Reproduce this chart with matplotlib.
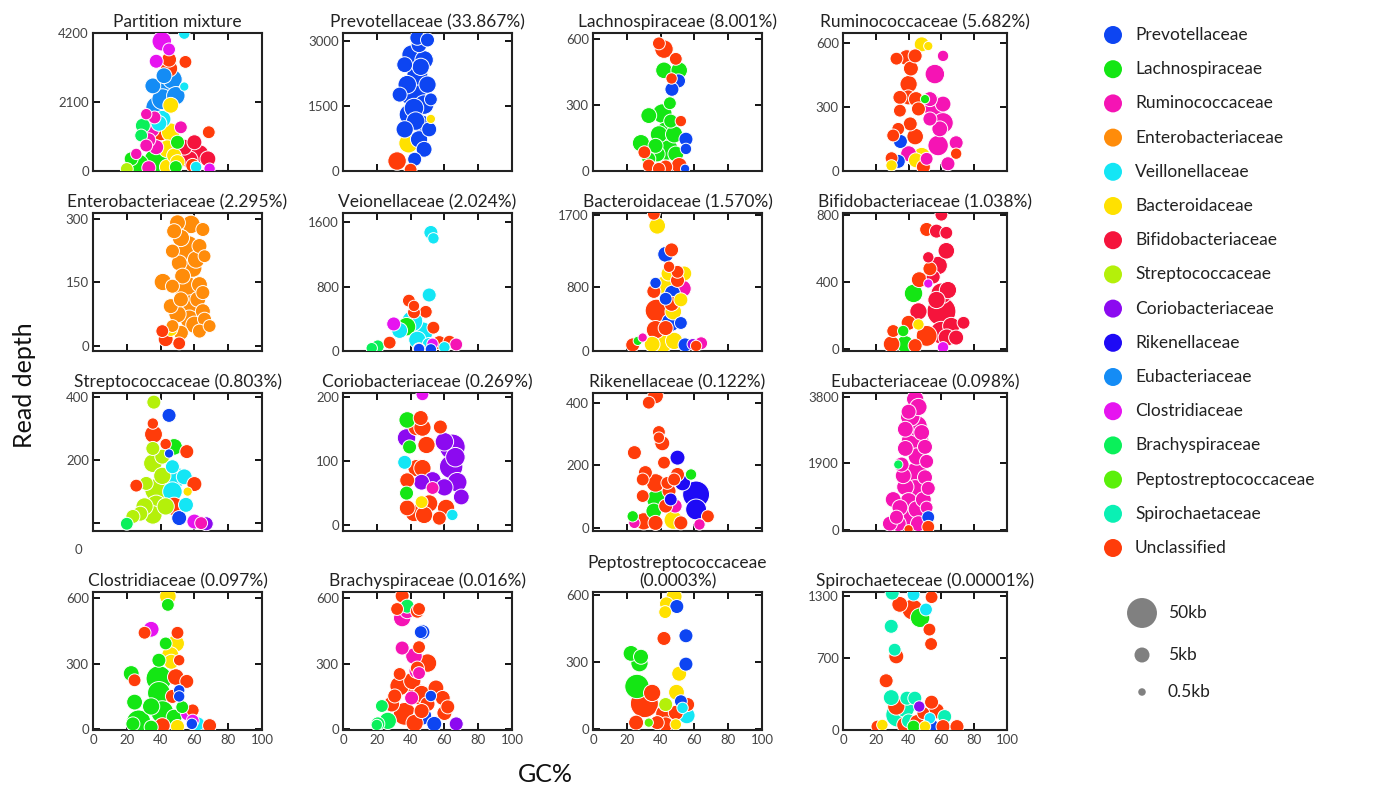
import matplotlib
matplotlib.use('Agg')
import matplotlib.pyplot as plt

plt.rcParams['font.family'] = ['Lato', 'DejaVu Sans']

families = ['Prevotellaceae', 'Lachnospiraceae', 'Ruminococcaceae',
            'Enterobacteriaceae', 'Veillonellaceae', 'Bacteroidaceae',
            'Bifidobacteriaceae', 'Streptococcaceae', 'Coriobacteriaceae',
            'Rikenellaceae', 'Eubacteriaceae', 'Clostridiaceae',
            'Brachyspiraceae', 'Peptostreptococcaceae', 'Spirochaetaceae',
            'Unclassified']
fam_codes = ['P', 'L', 'R', 'E', 'V', 'B', 'F', 'S', 'C', 'K', 'U', 'D',
             'Y', 'T', 'H', 'X']
fam_colors = ['#0d45f2', '#14e614', '#f514b4', '#ff8c0a', '#14e6f5',
              '#ffe100', '#f5143c', '#b4f00a', '#8c0af0', '#1e0af5',
              '#148cf5', '#e614f0', '#0af05a', '#5af00a', '#0af0b4',
              '#ff3c0a']
size_keys = [50, 5, 0.5]
size_labels = ['50kb', '5kb', '0.5kb']

# (GC %, read depth, contig kb, family code)
partition_pts = [
    (40.7, 3950, 12, 'D'), (54, 4180, 2, 'V'), (45, 3700, 3, 'D'),
    (37.4, 3340, 4, 'D'), (45, 3390, 5, 'X'), (54.7, 3320, 3, 'X'),
    (45, 3120, 8, 'X'), (43, 2490, 25, 'U'), (47, 2790, 12, 'U'),
    (41, 2185, 15, 'U'), (38, 1930, 20, 'U'), (49, 2290, 10, 'U'),
    (35.4, 2590, 6, 'U'), (46, 2000, 6, 'B'), (54, 2570, 1, 'V'),
    (31.5, 1730, 2, 'R'), (36.4, 1630, 3, 'R'), (41, 1580, 8, 'V'),
    (29.5, 1380, 5, 'Y'), (34.4, 1280, 8, 'R'), (40, 1230, 14, 'X'),
    (46, 1180, 10, 'B'), (68.5, 1180, 3, 'X'), (52, 1330, 3, 'R'),
    (28.5, 1080, 3, 'Y'), (31.5, 775, 3, 'R'), (50, 875, 4, 'L'),
    (44, 675, 9, 'B'), (37.4, 725, 5, 'R'), (54, 725, 6, 'F'),
    (60, 875, 5, 'F'), (63, 520, 10, 'F'), (68, 370, 6, 'F'),
    (37.4, 320, 25, 'L'), (26.6, 170, 20, 'L'), (22.6, 370, 4, 'L'),
    (48, 470, 5, 'B'), (50, 270, 5, 'B'), (25.6, 520, 2, 'R'),
    (59, 170, 4, 'X'), (69, 70, 2, 'D'), (61, 120, 2, 'V'),
    (49, 120, 3, 'L'), (33, 100, 4, 'R'), (44, 120, 6, 'B'),
    (20, 60, 3, 'S'), (42, 2900, 6, 'U'), (39, 1450, 6, 'V'),
    (33, 950, 4, 'R'), (57, 350, 8, 'F'),
]
prevo_pts = [
    (45, 2910, 6, 'P'), (50, 3020, 4, 'P'), (40.6, 2680, 12, 'P'),
    (48, 2560, 10, 'P'), (36.5, 2450, 6, 'P'), (44, 2220, 15, 'P'),
    (50, 1990, 8, 'P'), (41, 1830, 40, 'P'), (33.5, 1760, 5, 'P'),
    (48, 1530, 12, 'P'), (39.4, 1300, 15, 'P'), (46.5, 1080, 10, 'P'),
    (36.5, 960, 8, 'P'), (45, 730, 8, 'P'), (48, 500, 6, 'P'),
    (38.8, 640, 12, 'B'), (32, 230, 10, 'X'), (40, 30, 3, 'X'),
    (51, 960, 5, 'P'), (44, 3070, 5, 'P'), (38, 1990, 10, 'P'),
    (52, 1650, 3, 'P'), (42.4, 270, 4, 'P'), (52, 1200, 1, 'B'),
    (46, 2400, 8, 'P'), (42, 1450, 12, 'P'), (43, 1150, 10, 'P'),
]
lachno_pts = [
    (42, 552, 10, 'X'), (39, 578, 3, 'X'), (49, 508, 3, 'X'),
    (42, 456, 7, 'L'), (51, 456, 7, 'L'), (46.5, 419, 2, 'X'),
    (50.6, 408, 4, 'P'), (46.7, 370, 4, 'P'), (45.5, 307, 3, 'L'),
    (41, 260, 12, 'L'), (33, 251, 6, 'L'), (46, 226, 4, 'L'),
    (52, 226, 2, 'X'), (43, 181, 10, 'L'), (43, 159, 25, 'L'),
    (39, 166, 8, 'L'), (48, 166, 8, 'L'), (28.4, 126, 8, 'L'),
    (55, 144, 4, 'P'), (55, 100, 2, 'P'), (43.5, 100, 20, 'L'),
    (38, 77, 6, 'L'), (49, 77, 6, 'L'), (30.4, 85, 3, 'X'),
    (33, 55, 4, 'L'), (33, 25, 3, 'X'), (51, 25, 6, 'X'),
    (43, 18, 4, 'X'), (39, 10, 3, 'X'), (54.5, 10, 1, 'P'),
    (37, 114, 5, 'L'),
]
rumino_pts = [
    (48, 592, 5, 'B'), (52, 584, 1, 'B'), (61, 538, 2, 'R'),
    (32.6, 525, 3, 'X'), (38.8, 530, 6, 'X'), (44, 538, 4, 'X'),
    (41.4, 479, 5, 'X'), (56, 453, 12, 'R'), (40, 406, 8, 'X'),
    (34.7, 344, 4, 'X'), (39.8, 344, 5, 'X'), (44.5, 336, 5, 'X'),
    (56, 298, 20, 'R'), (61, 313, 6, 'R'), (53, 336, 5, 'R'),
    (34.7, 282, 3, 'X'), (46, 290, 4, 'X'), (61, 225, 14, 'R'),
    (53, 243, 4, 'R'), (41, 220, 4, 'X'), (33.7, 197, 3, 'X'),
    (44, 161, 7, 'X'), (30.6, 166, 3, 'X'), (35, 138, 4, 'P'),
    (58, 119, 14, 'R'), (69, 132, 4, 'R'), (40, 81, 6, 'R'),
    (69, 81, 2, 'X'), (29.6, 60, 3, 'X'), (48, 70, 8, 'B'),
    (44.5, 50, 5, 'B'), (33.7, 45, 4, 'P'), (51, 57, 3, 'R'),
    (29.6, 26, 2, 'B'), (49, 19, 4, 'X'), (50, 336, 1, 'L'),
    (64, 34, 4, 'R'), (59, 197, 6, 'R'),
]
entero_pts = [
    (58, 287, 10, 'E'), (50, 291, 6, 'E'), (65, 275, 4, 'E'),
    (48, 271, 5, 'E'), (56, 232, 25, 'E'), (63, 236, 5, 'E'),
    (47, 224, 4, 'E'), (66, 212, 3, 'E'), (59, 184, 10, 'E'),
    (51, 196, 6, 'E'), (41.3, 151, 8, 'E'), (55, 137, 25, 'E'),
    (63, 145, 6, 'E'), (65, 126, 4, 'E'), (47, 141, 4, 'E'),
    (46, 94, 5, 'E'), (58, 94, 20, 'E'), (65, 82, 5, 'E'),
    (52, 110, 5, 'E'), (57, 63, 10, 'E'), (66, 63, 4, 'E'),
    (69, 47, 3, 'E'), (52, 31, 5, 'E'), (63, 35, 4, 'E'),
    (47, 47, 3, 'E'), (46, 39, 4, 'B'), (41, 35, 3, 'X'),
    (43, 16, 5, 'X'), (51, 6, 3, 'X'), (61, 204, 8, 'E'),
    (53, 165, 6, 'E'), (62, 110, 6, 'E'), (52, 255, 8, 'E'),
    (50, 75, 8, 'E'), (60, 50, 8, 'E'),
]
veio_pts = [
    (52, 1473, 4, 'V'), (53.5, 1400, 2, 'V'), (51, 696, 4, 'V'),
    (49, 487, 3, 'X'), (47, 232, 15, 'V'), (53.5, 290, 3, 'X'),
    (57, 104, 4, 'X'), (53, 90, 2, 'D'), (63, 116, 3, 'X'),
    (67, 81, 3, 'R'), (30, 336, 4, 'D'), (37.6, 302, 10, 'L'),
    (39, 626, 3, 'X'), (42, 560, 2, 'X'), (41, 371, 15, 'V'),
    (20.6, 58, 3, 'Y'), (27.6, 104, 3, 'X'), (33.5, 255, 6, 'V'),
    (44, 139, 8, 'V'), (51, 81, 4, 'V'), (42, 480, 3, 'X'),
    (45, 25, 2, 'P'), (52, 20, 2, 'P'), (17, 35, 2, 'Y'),
    (60, 46, 2, 'V'), (45, 23, 3, 'X'),
]
bactero_pts = [
    (36, 1710, 3, 'X'), (38, 1560, 7, 'B'), (46.5, 1260, 4, 'X'),
    (43, 1205, 6, 'P'), (45, 1050, 2, 'X'), (44.7, 966, 5, 'B'),
    (54, 966, 5, 'B'), (50, 987, 3, 'X'), (50, 880, 4, 'X'),
    (37, 848, 2, 'P'), (42, 819, 10, 'B'), (53, 777, 8, 'R'),
    (36, 743, 4, 'X'), (47, 722, 6, 'P'), (43, 651, 3, 'P'),
    (52, 638, 4, 'B'), (46.5, 588, 5, 'X'), (37.6, 504, 20, 'X'),
    (47.5, 491, 7, 'B'), (46, 357, 10, 'P'), (52, 349, 3, 'P'),
    (37, 265, 10, 'X'), (43, 286, 5, 'X'), (40, 126, 30, 'B'),
    (48, 126, 8, 'B'), (54.5, 76, 4, 'P'), (23.5, 76, 4, 'X'),
    (59, 84, 2, 'C'), (64, 97, 3, 'R'), (61, 63, 2, 'X'),
    (26.5, 126, 1, 'L'), (29.4, 168, 1, 'R'), (35, 84, 6, 'B'),
]
bifido_pts = [
    (60, 800, 3, 'F'), (51, 712, 4, 'X'), (57, 702, 4, 'F'),
    (63, 692, 3, 'F'), (63, 585, 7, 'F'), (58, 497, 10, 'F'),
    (52, 546, 2, 'F'), (46.5, 413, 6, 'X'), (55, 429, 4, 'F'),
    (43, 331, 10, 'L'), (60, 224, 45, 'F'), (60, 331, 15, 'F'),
    (64, 351, 8, 'F'), (57, 292, 8, 'F'), (46, 224, 8, 'F'),
    (40, 156, 5, 'X'), (73.5, 156, 3, 'F'), (60, 97, 20, 'F'),
    (66, 137, 8, 'F'), (51, 78, 15, 'X'), (30.6, 107, 3, 'X'),
    (36.7, 107, 2, 'L'), (29.6, 29, 7, 'X'), (37.8, 29, 8, 'L'),
    (44, 20, 4, 'X'), (61, 10, 2, 'D'), (46, 146, 2, 'B'),
    (52, 390, 1, 'D'), (53, 478, 4, 'X'), (63.3, 68, 8, 'F'),
    (69, 68, 5, 'F'),
]
strepto_pts = [
    (36, 384, 4, 'S'), (45, 342, 4, 'P'), (35.4, 316, 2, 'X'),
    (35.8, 282, 9, 'X'), (35.4, 237, 4, 'S'), (48, 242, 7, 'L'),
    (43, 251, 2, 'X'), (55.5, 227, 4, 'X'), (45, 221, 1, 'P'),
    (35.4, 190, 10, 'S'), (41, 211, 5, 'S'), (49, 145, 15, 'V'),
    (47, 179, 4, 'V'), (54, 147, 6, 'V'), (25.6, 119, 3, 'X'),
    (60, 124, 5, 'X'), (31.5, 126, 4, 'S'), (37.4, 105, 20, 'S'),
    (47, 100, 12, 'V'), (37.4, 58, 12, 'S'), (30.5, 53, 8, 'S'),
    (43, 53, 8, 'S'), (48, 53, 10, 'X'), (23.6, 21, 4, 'S'),
    (35.4, 26, 10, 'S'), (51, 16, 5, 'P'), (60, 5, 5, 'D'),
    (64, 0, 3, 'R'), (67, -2, 4, 'C'), (20, -2, 3, 'Y'),
    (55, 58, 5, 'V'), (56, 100, 1, 'B'), (41, 150, 8, 'S'),
    (28, 30, 5, 'S'),
]
corio_pts = [
    (38, 164, 7, 'L'), (43.5, 153, 8, 'X'), (37.6, 136, 10, 'C'),
    (39.4, 122, 4, 'L'), (36.5, 98, 4, 'V'), (43.5, 89, 8, 'X'),
    (38, 70, 5, 'X'), (37.6, 50, 4, 'L'), (38, 27, 6, 'X'),
    (42, 19, 8, 'X'), (47, 152, 8, 'X'), (57.6, 153, 4, 'X'),
    (49.4, 125, 8, 'X'), (60, 130, 10, 'C'), (64.7, 122, 30, 'C'),
    (64, 91, 22, 'C'), (47, 89, 8, 'X'), (53, 70, 8, 'C'),
    (67.6, 67, 12, 'C'), (60, 59, 8, 'C'), (53, 58, 3, 'R'),
    (70, 44, 6, 'C'), (51, 34, 8, 'X'), (61, 27, 8, 'X'),
    (48, 16, 8, 'X'), (57, 11, 4, 'X'), (64.7, 16, 2, 'V'),
    (46.5, 67, 6, 'C'), (46.5, 36, 3, 'B'), (46, 167, 5, 'X'),
    (47, 204, 3, 'D'), (66.5, 106, 12, 'C'),
]
riken_pts = [
    (37, 423, 6, 'X'), (33, 401, 3, 'X'), (39, 307, 3, 'X'),
    (41, 271, 5, 'X'), (39, 289, 2, 'X'), (24.5, 241, 4, 'X'),
    (42, 209, 3, 'X'), (50, 225, 5, 'K'), (31, 177, 4, 'X'),
    (50, 171, 4, 'X'), (58, 171, 2, 'L'), (37, 144, 10, 'X'),
    (29.4, 155, 3, 'X'), (53, 144, 6, 'K'), (44, 144, 3, 'X'),
    (45, 118, 4, 'X'), (29.4, 102, 3, 'X'), (61, 107, 35, 'K'),
    (61, 59, 15, 'K'), (38, 91, 15, 'L'), (36, 54, 6, 'L'),
    (48.6, 70, 4, 'R'), (43, 70, 4, 'X'), (30, 21, 8, 'X'),
    (37, 16, 5, 'X'), (47.5, 25, 10, 'B'), (52, 16, 4, 'X'),
    (24.5, 16, 2, 'R'), (23.5, 37, 2, 'L'), (63, 11, 2, 'R'),
    (68, 37, 3, 'X'), (46, 91, 3, 'K'), (48, 155, 3, 'X'),
]
eubact_pts = [
    (44, 3740, 8, 'R'), (46, 3515, 8, 'R'), (40, 3380, 5, 'R'),
    (41, 3240, 12, 'R'), (45, 2970, 15, 'R'), (38, 2880, 6, 'R'),
    (48, 2785, 6, 'R'), (44, 2510, 40, 'R'), (38, 2330, 6, 'R'),
    (50, 2375, 5, 'R'), (45, 2100, 8, 'R'), (35.7, 1870, 5, 'R'),
    (51, 1960, 4, 'R'), (33.7, 1870, 1, 'Y'), (44, 1550, 30, 'R'),
    (36.7, 1550, 6, 'R'), (50, 1505, 5, 'R'), (38, 1230, 8, 'R'),
    (52, 1190, 4, 'R'), (44, 1140, 15, 'R'), (30.6, 870, 6, 'R'),
    (40, 820, 8, 'R'), (49, 870, 6, 'R'), (34.7, 640, 6, 'R'),
    (45, 590, 8, 'R'), (51, 640, 3, 'R'), (41, 365, 15, 'R'),
    (32.6, 365, 4, 'R'), (52, 365, 3, 'P'), (28.6, 180, 5, 'R'),
    (33.7, 180, 6, 'R'), (46, 180, 6, 'R'), (52, 90, 3, 'X'),
    (40, 20, 1, 'X'),
]
clostri_pts = [
    (44.3, 608, 7, 'B'), (44.3, 569, 3, 'L'), (34.4, 457, 6, 'D'),
    (30.5, 441, 3, 'X'), (50, 441, 3, 'X'), (49, 392, 8, 'B'),
    (43, 392, 3, 'L'), (45.7, 338, 8, 'B'), (46.3, 308, 5, 'B'),
    (51, 315, 2, 'X'), (39, 315, 4, 'L'), (22.6, 254, 6, 'L'),
    (24.6, 223, 3, 'X'), (39, 231, 30, 'L'), (49, 238, 7, 'X'),
    (55.5, 218, 4, 'X'), (51, 177, 2, 'P'), (51, 149, 2, 'P'),
    (39, 165, 20, 'L'), (47, 149, 4, 'X'), (24.6, 123, 6, 'L'),
    (34.4, 103, 8, 'L'), (41, 77, 20, 'L'), (56, 69, 4, 'D'),
    (59, 85, 3, 'X'), (48, 54, 6, 'L'), (27, 31, 25, 'L'),
    (23.6, 23, 4, 'L'), (41, 15, 6, 'X'), (62, 23, 4, 'V'),
    (58.5, 23, 2, 'P'), (50, 11, 4, 'B'), (69, 15, 4, 'X'),
    (59, 38, 3, 'D'), (34.4, 8, 4, 'L'), (52.8, 100, 3, 'L'),
]
brachy_pts = [
    (35, 610, 4, 'X'), (38, 563, 4, 'Y'), (32, 550, 3, 'X'),
    (35, 508, 8, 'R'), (38, 540, 5, 'R'), (44, 540, 4, 'X'),
    (46, 444, 3, 'P'), (35, 371, 4, 'R'), (42, 334, 7, 'R'),
    (44, 279, 4, 'X'), (43.5, 266, 5, 'R'), (33.5, 252, 3, 'X'),
    (33.5, 197, 12, 'X'), (41, 220, 8, 'X'), (44, 160, 15, 'X'),
    (30.6, 151, 4, 'X'), (40.6, 142, 4, 'R'), (23, 105, 3, 'Y'),
    (28.8, 114, 6, 'X'), (36.5, 69, 20, 'X'), (26.5, 37, 8, 'Y'),
    (20.6, 23, 4, 'Y'), (42.4, 27, 8, 'X'), (20, 18, 2, 'Y'),
    (45, 550, 3, 'X'), (47, 444, 5, 'P'), (45, 375, 3, 'X'),
    (50, 302, 10, 'X'), (45, 256, 3, 'R'), (55, 188, 6, 'X'),
    (46.5, 160, 8, 'X'), (59, 142, 5, 'X'), (52, 151, 2, 'P'),
    (62, 101, 4, 'X'), (60, 73, 5, 'X'), (47, 60, 10, 'P'),
    (54, 23, 5, 'P'), (67, 23, 4, 'C'), (50, 114, 5, 'X'),
    (46.5, 82, 5, 'X'),
]
pepto_pts = [
    (48, 595, 6, 'B'), (43.5, 562, 4, 'B'), (42.7, 525, 3, 'B'),
    (49.6, 550, 4, 'P'), (42, 407, 4, 'X'), (55, 419, 4, 'P'),
    (22.5, 340, 6, 'L'), (28.4, 325, 5, 'L'), (27.5, 296, 8, 'L'),
    (55, 292, 4, 'P'), (51, 249, 5, 'B'), (26, 192, 25, 'L'),
    (49.4, 166, 6, 'B'), (30.4, 115, 40, 'X'), (35, 163, 8, 'X'),
    (52, 126, 3, 'P'), (43, 111, 4, 'S'), (56, 111, 4, 'X'),
    (49, 74, 5, 'X'), (42, 71, 7, 'X'), (55.5, 62, 7, 'V'),
    (53, 96, 2, 'V'), (25.5, 30, 5, 'X'), (38, 30, 4, 'X'),
    (33, 30, 1, 'T'), (49, 22, 2, 'B'), (43, 22, 5, 'X'),
]
spiro_pts = [
    (30, 1330, 4, 'H'), (43, 1315, 3, 'V'), (54, 1290, 3, 'X'),
    (34.6, 1220, 6, 'X'), (42.4, 1170, 15, 'X'), (47, 1090, 12, 'L'),
    (50.6, 1170, 3, 'V'), (29.4, 1007, 4, 'H'), (52.7, 975, 3, 'X'),
    (53.7, 835, 3, 'X'), (31.5, 780, 3, 'H'), (32.5, 715, 5, 'X'),
    (26.3, 478, 4, 'X'), (29.4, 315, 6, 'H'), (39, 309, 4, 'H'),
    (43.8, 309, 4, 'H'), (54, 270, 4, 'X'), (38, 211, 10, 'H'),
    (46.5, 228, 2, 'C'), (57, 185, 6, 'X'), (62, 130, 4, 'H'),
    (33.5, 146, 25, 'H'), (32.5, 228, 8, 'X'), (49, 163, 3, 'X'),
    (53, 114, 2, 'V'), (21, 33, 3, 'X'), (24, 49, 2, 'B'),
    (40, 88, 4, 'H'), (43, 33, 3, 'L'), (45, 81, 4, 'X'),
    (50, 33, 2, 'B'), (54, 33, 5, 'P'), (61, 33, 4, 'X'),
    (69.5, 33, 4, 'X'), (37.6, 49, 6, 'X'),
]

panel_titles = ['Partition mixture', 'Prevotellaceae (33.867%)',
                'Lachnospiraceae (8.001%)', 'Ruminococcaceae (5.682%)',
                'Enterobacteriaceae (2.295%)', 'Veionellaceae (2.024%)',
                'Bacteroidaceae (1.570%)', 'Bifidobacteriaceae (1.038%)',
                'Streptococcaceae (0.803%)', 'Coriobacteriaceae (0.269%)',
                'Rikenellaceae (0.122%)', 'Eubacteriaceae (0.098%)',
                'Clostridiaceae (0.097%)', 'Brachyspiraceae (0.016%)',
                'Peptostreptococcaceae\n(0.0003%)',
                'Spirochaeteceae (0.00001%)']
panel_points = [partition_pts, prevo_pts, lachno_pts, rumino_pts,
                entero_pts, veio_pts, bactero_pts, bifido_pts,
                strepto_pts, corio_pts, riken_pts, eubact_pts,
                clostri_pts, brachy_pts, pepto_pts, spiro_pts]
panel_yticks = [[0, 2100, 4200], [0, 1500, 3000], [0, 300, 600],
                [0, 300, 600], [0, 150, 300], [0, 800, 1600],
                [0, 800, 1700], [0, 400, 800], [0, 200, 400],
                [0, 100, 200], [0, 200, 400], [0, 1900, 3800],
                [0, 300, 600], [0, 300, 600], [0, 300, 600],
                [0, 700, 1300]]
panel_ylims = [(0, 4200), (0, 3180), (0, 625), (0, 645), (-12, 314),
               (0, 1715), (0, 1720), (-12, 810), (-25, 413), (-9, 206),
               (-10, 432), (-30, 3915), (-5, 628), (-5, 628), (-3, 615),
               (0, 1340)]
gc_ticks = [0, 20, 40, 60, 80, 100]

W, H = 1374, 800
col_left = [93, 343, 593, 843]
col_width = [169, 169, 169, 164]
row_top = [33, 213, 393, 592]
ax_h = 138
color_of = dict(zip(fam_codes, fam_colors))


def marker_area(kb):
    d_px = 15 * (kb / 5.0) ** 0.3
    return (d_px * 0.72) ** 2


fig = plt.figure(figsize=(W / 100, H / 100), dpi=100)

for i, pts in enumerate(panel_points):
    r, c = divmod(i, 4)
    ax = fig.add_axes([col_left[c] / W, 1 - (row_top[r] + ax_h) / H,
                       col_width[c] / W, ax_h / H])
    pts = sorted(pts, key=lambda p: -p[2])
    ax.scatter([p[0] for p in pts], [p[1] for p in pts],
               s=[marker_area(p[2]) for p in pts],
               c=[color_of[p[3]] for p in pts],
               edgecolors='white', linewidths=0.7, zorder=3, clip_on=True)
    ax.set_xlim(0, 100)
    ax.set_ylim(*panel_ylims[i])
    ax.set_xticks(gc_ticks)
    ax.set_yticks(panel_yticks[i])
    if r < 3:
        ax.set_xticklabels([])
    if i == 8:
        ax.set_yticklabels(['', '200', '400'])
        ax.text(-0.085, -0.14, '0', transform=ax.transAxes, ha='center',
                va='center', fontsize=9.5, color='#444444')
    ax.tick_params(direction='in', top=True, right=True, length=5,
                   width=1.3, labelsize=9.5, labelcolor='#444444', pad=3)
    for sp in ax.spines.values():
        sp.set_linewidth(1.5)
        sp.set_color('#222222')
    ax.set_title(panel_titles[i], fontsize=12.5, color='#222222', pad=4)

fig.text(24 / W, 1 - 385 / H, 'Read depth', rotation=90, ha='center',
         va='center', fontsize=18, color='#111111')
fig.text(545 / W, 1 - 774 / H, 'GC%', ha='center', va='center',
         fontsize=18, color='#111111')

# legend drawn on a transparent overlay in pixel units
lax = fig.add_axes([0, 0, 1, 1])
lax.set_xlim(0, W)
lax.set_ylim(H, 0)
lax.axis('off')
for i, name in enumerate(families):
    y = 35 + 34.2 * i
    lax.scatter(1113, y, s=(18 * 0.72) ** 2, color=fam_colors[i],
                edgecolors='none')
    lax.text(1135, y, name, va='center', fontsize=12.5, color='#222222')
for j, kb in enumerate(size_keys):
    y = [613, 655, 692][j]
    lax.scatter(1142, y, s=marker_area(kb), color='#808080',
                edgecolors='none')
    lax.text(1168, y, size_labels[j], va='center', fontsize=12.5,
             color='#222222')

fig.savefig('out.png', dpi=100)
